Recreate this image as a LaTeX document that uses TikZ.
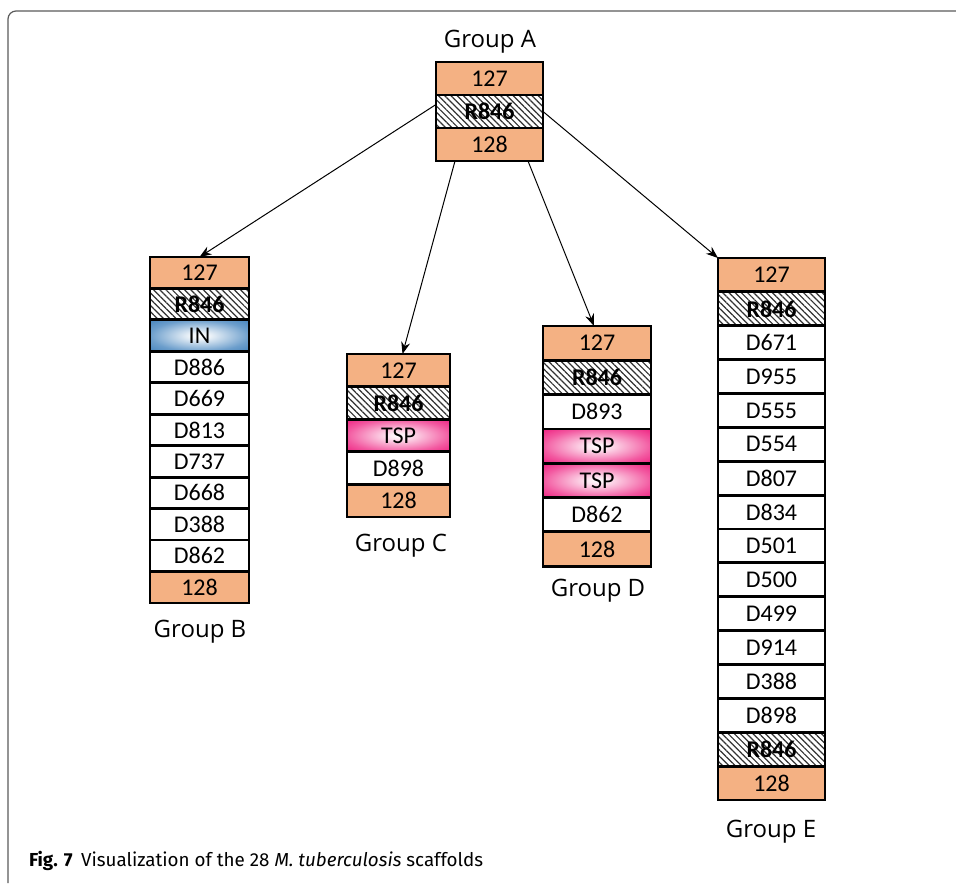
\documentclass[tikz,border=0pt]{standalone}
\usepackage{fontspec}
\usetikzlibrary{arrows.meta,patterns.meta,calc}
\newfontfamily\boxfont{Carlito}
\newfontfamily\grpfont{Open Sans}
\newfontfamily\capfont{Fira Sans}
\definecolor{endcol}{RGB}{244,177,131}
\definecolor{incol}{RGB}{46,117,182}
\definecolor{tspcol}{RGB}{236,0,110}
\definecolor{hatchcol}{RGB}{50,50,50}
\definecolor{framecol}{RGB}{90,90,90}
\pgfdeclareradialshading{inglow}{\pgfpoint{0bp}{0bp}}{color(0bp)=(white); color(5bp)=(white!92!incol); color(25bp)=(incol!70!white); color(42bp)=(incol); color(50bp)=(incol)}
\pgfdeclareradialshading{tspglow}{\pgfpoint{0bp}{0bp}}{color(0bp)=(white); color(5bp)=(white!90!tspcol); color(25bp)=(tspcol!65!white); color(42bp)=(tspcol); color(50bp)=(tspcol)}
\tikzset{
  seg/.style={draw, line width=1.4pt, inner sep=0pt, outer sep=0pt, font=\boxfont\fontsize{12}{14}\selectfont},
  endseg/.style={fill=endcol},
  repseg/.style={pattern={Lines[angle=-45,distance=2.2pt,line width=0.6pt]}, pattern color=hatchcol, font=\boxfont\bfseries\fontsize{12}{14}\selectfont},
  inseg/.style={shading=inglow},
  tspseg/.style={shading=tspglow},
  dseg/.style={fill=white},
  grp/.style={anchor=base, font=\grpfont\fontsize{12}{14}\selectfont},
  arr/.style={-{Stealth[length=6pt,width=4.5pt]}, line width=0.5pt},
}
\begin{document}
\begin{tikzpicture}[x=0.5pt,y=-0.5pt]
\useasboundingbox (0,0) rectangle (956,883);
\draw[framecol, line width=0.6pt, rounded corners=4pt] (8,883) -- (8,11) -- (956,11);

% scaffolds
\foreach \txt/\kind [count=\i] in {127/endseg,R846/repseg,128/endseg}
  \node[seg,\kind,minimum width=53.5pt,minimum height=16.5pt] (A\i) at (489.5,{62+33*(\i-0.5)}) {\txt};
\foreach \txt/\kind [count=\i] in {127/endseg,R846/repseg,IN/inseg,D886/dseg,D669/dseg,D813/dseg,D737/dseg,D668/dseg,D388/dseg,D862/dseg,128/endseg}
  \node[seg,\kind,minimum width=49.5pt,minimum height=15.7pt] (B\i) at (199.5,{257+31.45*(\i-0.5)}) {\txt};
\foreach \txt/\kind [count=\i] in {127/endseg,R846/repseg,TSP/tspseg,D898/dseg,128/endseg}
  \node[seg,\kind,minimum width=51.5pt,minimum height=16.3pt] (C\i) at (398.5,{354+32.6*(\i-0.5)}) {\txt};
\foreach \txt/\kind [count=\i] in {127/endseg,R846/repseg,D893/dseg,TSP/tspseg,TSP/tspseg,D862/dseg,128/endseg}
  \node[seg,\kind,minimum width=54pt,minimum height=17.15pt] (D\i) at (597,{326+34.3*(\i-0.5)}) {\txt};
\foreach \txt/\kind [count=\i] in {127/endseg,R846/repseg,D671/dseg,D955/dseg,D555/dseg,D554/dseg,D807/dseg,D834/dseg,D501/dseg,D500/dseg,D499/dseg,D914/dseg,D388/dseg,D898/dseg,R846/repseg,128/endseg}
  \node[seg,\kind,minimum width=53.5pt,minimum height=16.94pt] (E\i) at (771.5,{258+33.875*(\i-0.5)}) {\txt};

% group names
\node[grp] (labA) at (490,48) {Group A};
\node[grp] (labB) at (200,637) {Group B};
\node[grp] (labC) at (401,551) {Group C};
\node[grp] (labD) at (598,596) {Group D};
\node[grp] (labE) at (771,837) {Group E};

\draw[arr] ($(A2.west)+(0,-7)$) -- (B1.north);
\draw[arr] ($(A3.south west)+(19,0)$) -- ($(C1.north)+(4,0)$);
\draw[arr] ($(A3.south east)+(-15,0)$) -- ($(D1.north)+(-3,0)$);
\draw[arr] (A2.east) -- (E1.north west);

\node[anchor=base west, font=\capfont\fontsize{9.4}{11}\selectfont] (caption) at (22,866)
  {\textbf{Fig. 7}\hspace{0.45em}Visualization of the 28 \textit{M. tuberculosis} scaffolds};
\end{tikzpicture}
\end{document}
